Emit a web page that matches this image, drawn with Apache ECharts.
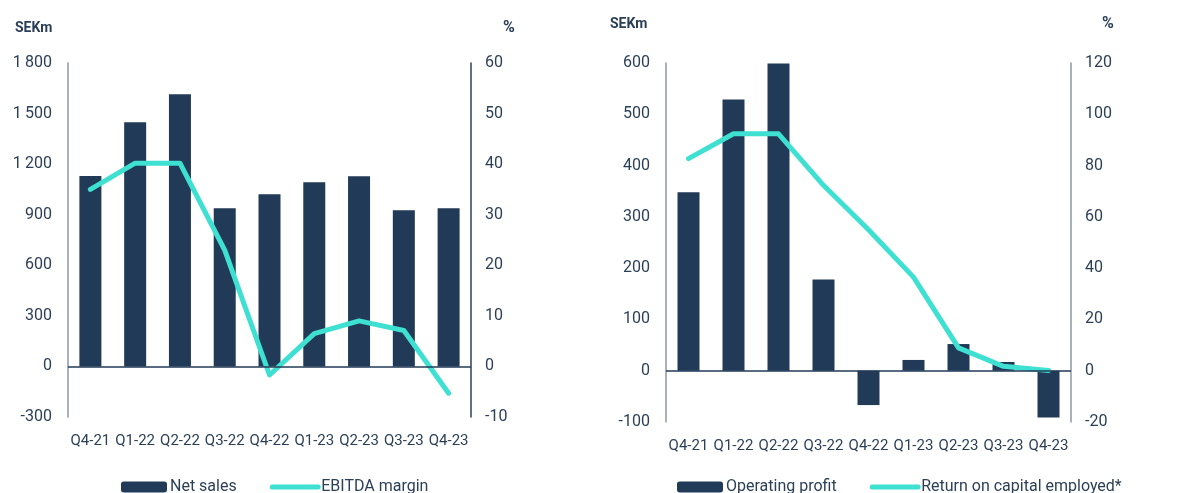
<!DOCTYPE html>
<html>
<head>
<meta charset="utf-8">
<script src="https://cdn.jsdelivr.net/npm/echarts@6/dist/echarts.min.js"></script>
<style>
html,body{margin:0;padding:0;background:#fff;}
#c{width:1185px;height:493px;}
</style>
</head>
<body>
<div id="c"></div>
<script>
const categories = ['Q4-21','Q1-22','Q2-22','Q3-22','Q4-22','Q1-23','Q2-23','Q3-23','Q4-23'];
const netSales = [1129, 1448, 1614, 938, 1021, 1092, 1128, 926, 938];
const ebitdaMargin = [35.0, 40.2, 40.2, 23.0, -1.7, 6.5, 9.0, 7.1, -5.3];
const operatingProfit = [348, 529, 599, 178, -67, 21, 52, 17, -91];
const roce = [82.7, 92.4, 92.4, 72.3, 55.0, 36.5, 8.9, 1.7, 0.1];

const navy = '#203a57';
const teal = '#3ee0d2';
const textC = '#2b3f57';
const font = 'Roboto';

function fmt(v){ return String(v).replace(/\B(?=(\d{3})+(?!\d))/g, '\u2009'); }

function yAx(grid, min, max, interval, pos, lineColor, labelMargin){
  return {
    type:'value', gridIndex:grid, min:min, max:max, interval:interval, position:pos,
    axisLine:{show:true, lineStyle:{color:lineColor, width:1.5}},
    axisTick:{show:false}, splitLine:{show:false},
    axisLabel:{color:textC, fontSize:16, fontFamily:font, margin:labelMargin, formatter:function(v){return fmt(v);}}
  };
}
function xAx(grid){
  return {
    type:'category', gridIndex:grid, data:categories,
    axisLine:{show:false, onZero:false}, axisTick:{show:false},
    axisLabel:{color:textC, fontSize:15, fontFamily:font, margin:17, interval:0}
  };
}
const zeroLine = {
  silent:true, symbol:'none', label:{show:false},
  lineStyle:{color:navy, type:'solid', width:1.5},
  data:[{yAxis:0}]
};
function lineLegend(name){
  return {name:name, itemStyle:{opacity:0}, lineStyle:{width:5, cap:'round', color:teal}};
}
const titleStyle = {fontSize:14, fontWeight:'bold', color:textC, fontFamily:font};
const pctStyle = {fontSize:16, fontWeight:'bold', color:textC, fontFamily:font};

const option = {
  animation:false,
  textStyle:{fontFamily:font},
  title:[
    {text:'SEKm', left:10, top:16, textStyle:titleStyle},
    {text:'%', left:498, top:15, textStyle:pctStyle},
    {text:'SEKm', left:605, top:12, textStyle:titleStyle},
    {text:'%', left:1097, top:11, textStyle:pctStyle}
  ],
  grid:[
    {left:68, right:714, top:63, bottom:76},
    {left:666, right:114, top:63, bottom:71}
  ],
  legend:[
    {left:116, top:474, itemWidth:46, itemHeight:11, itemGap:33,
     data:[{name:'Net sales'}, lineLegend('EBITDA margin')],
     textStyle:{color:textC, fontSize:16, fontFamily:font, padding:[0,0,0,-2]}},
    {left:672, top:474, itemWidth:46, itemHeight:11, itemGap:33,
     data:[{name:'Operating profit'}, lineLegend('Return on capital employed*')],
     textStyle:{color:textC, fontSize:16, fontFamily:font, padding:[0,0,0,-2]}}
  ],
  xAxis:[xAx(0), xAx(1)],
  yAxis:[
    yAx(0, -300, 1800, 300, 'left', '#8d99a6', 16),
    yAx(0, -10, 60, 10, 'right', '#2b3f57', 14),
    yAx(1, -100, 600, 100, 'left', '#8d99a6', 16),
    yAx(1, -20, 120, 20, 'right', '#8d99a6', 14)
  ],
  series:[
    {name:'Net sales', type:'bar', xAxisIndex:0, yAxisIndex:0, data:netSales, barWidth:22,
     itemStyle:{color:navy}, markLine:zeroLine},
    {name:'EBITDA margin', type:'line', xAxisIndex:0, yAxisIndex:1, data:ebitdaMargin, symbol:'none',
     lineStyle:{color:teal, width:5, cap:'round', join:'round'}, itemStyle:{color:teal}},
    {name:'Operating profit', type:'bar', xAxisIndex:1, yAxisIndex:2, data:operatingProfit, barWidth:22,
     itemStyle:{color:navy}, markLine:zeroLine},
    {name:'Return on capital employed*', type:'line', xAxisIndex:1, yAxisIndex:3, data:roce, symbol:'none',
     lineStyle:{color:teal, width:5, cap:'round', join:'round'}, itemStyle:{color:teal}}
  ]
};
const chart = echarts.init(document.getElementById('c'), null, {renderer:'canvas'});
chart.setOption(option);
</script>
</body>
</html>
